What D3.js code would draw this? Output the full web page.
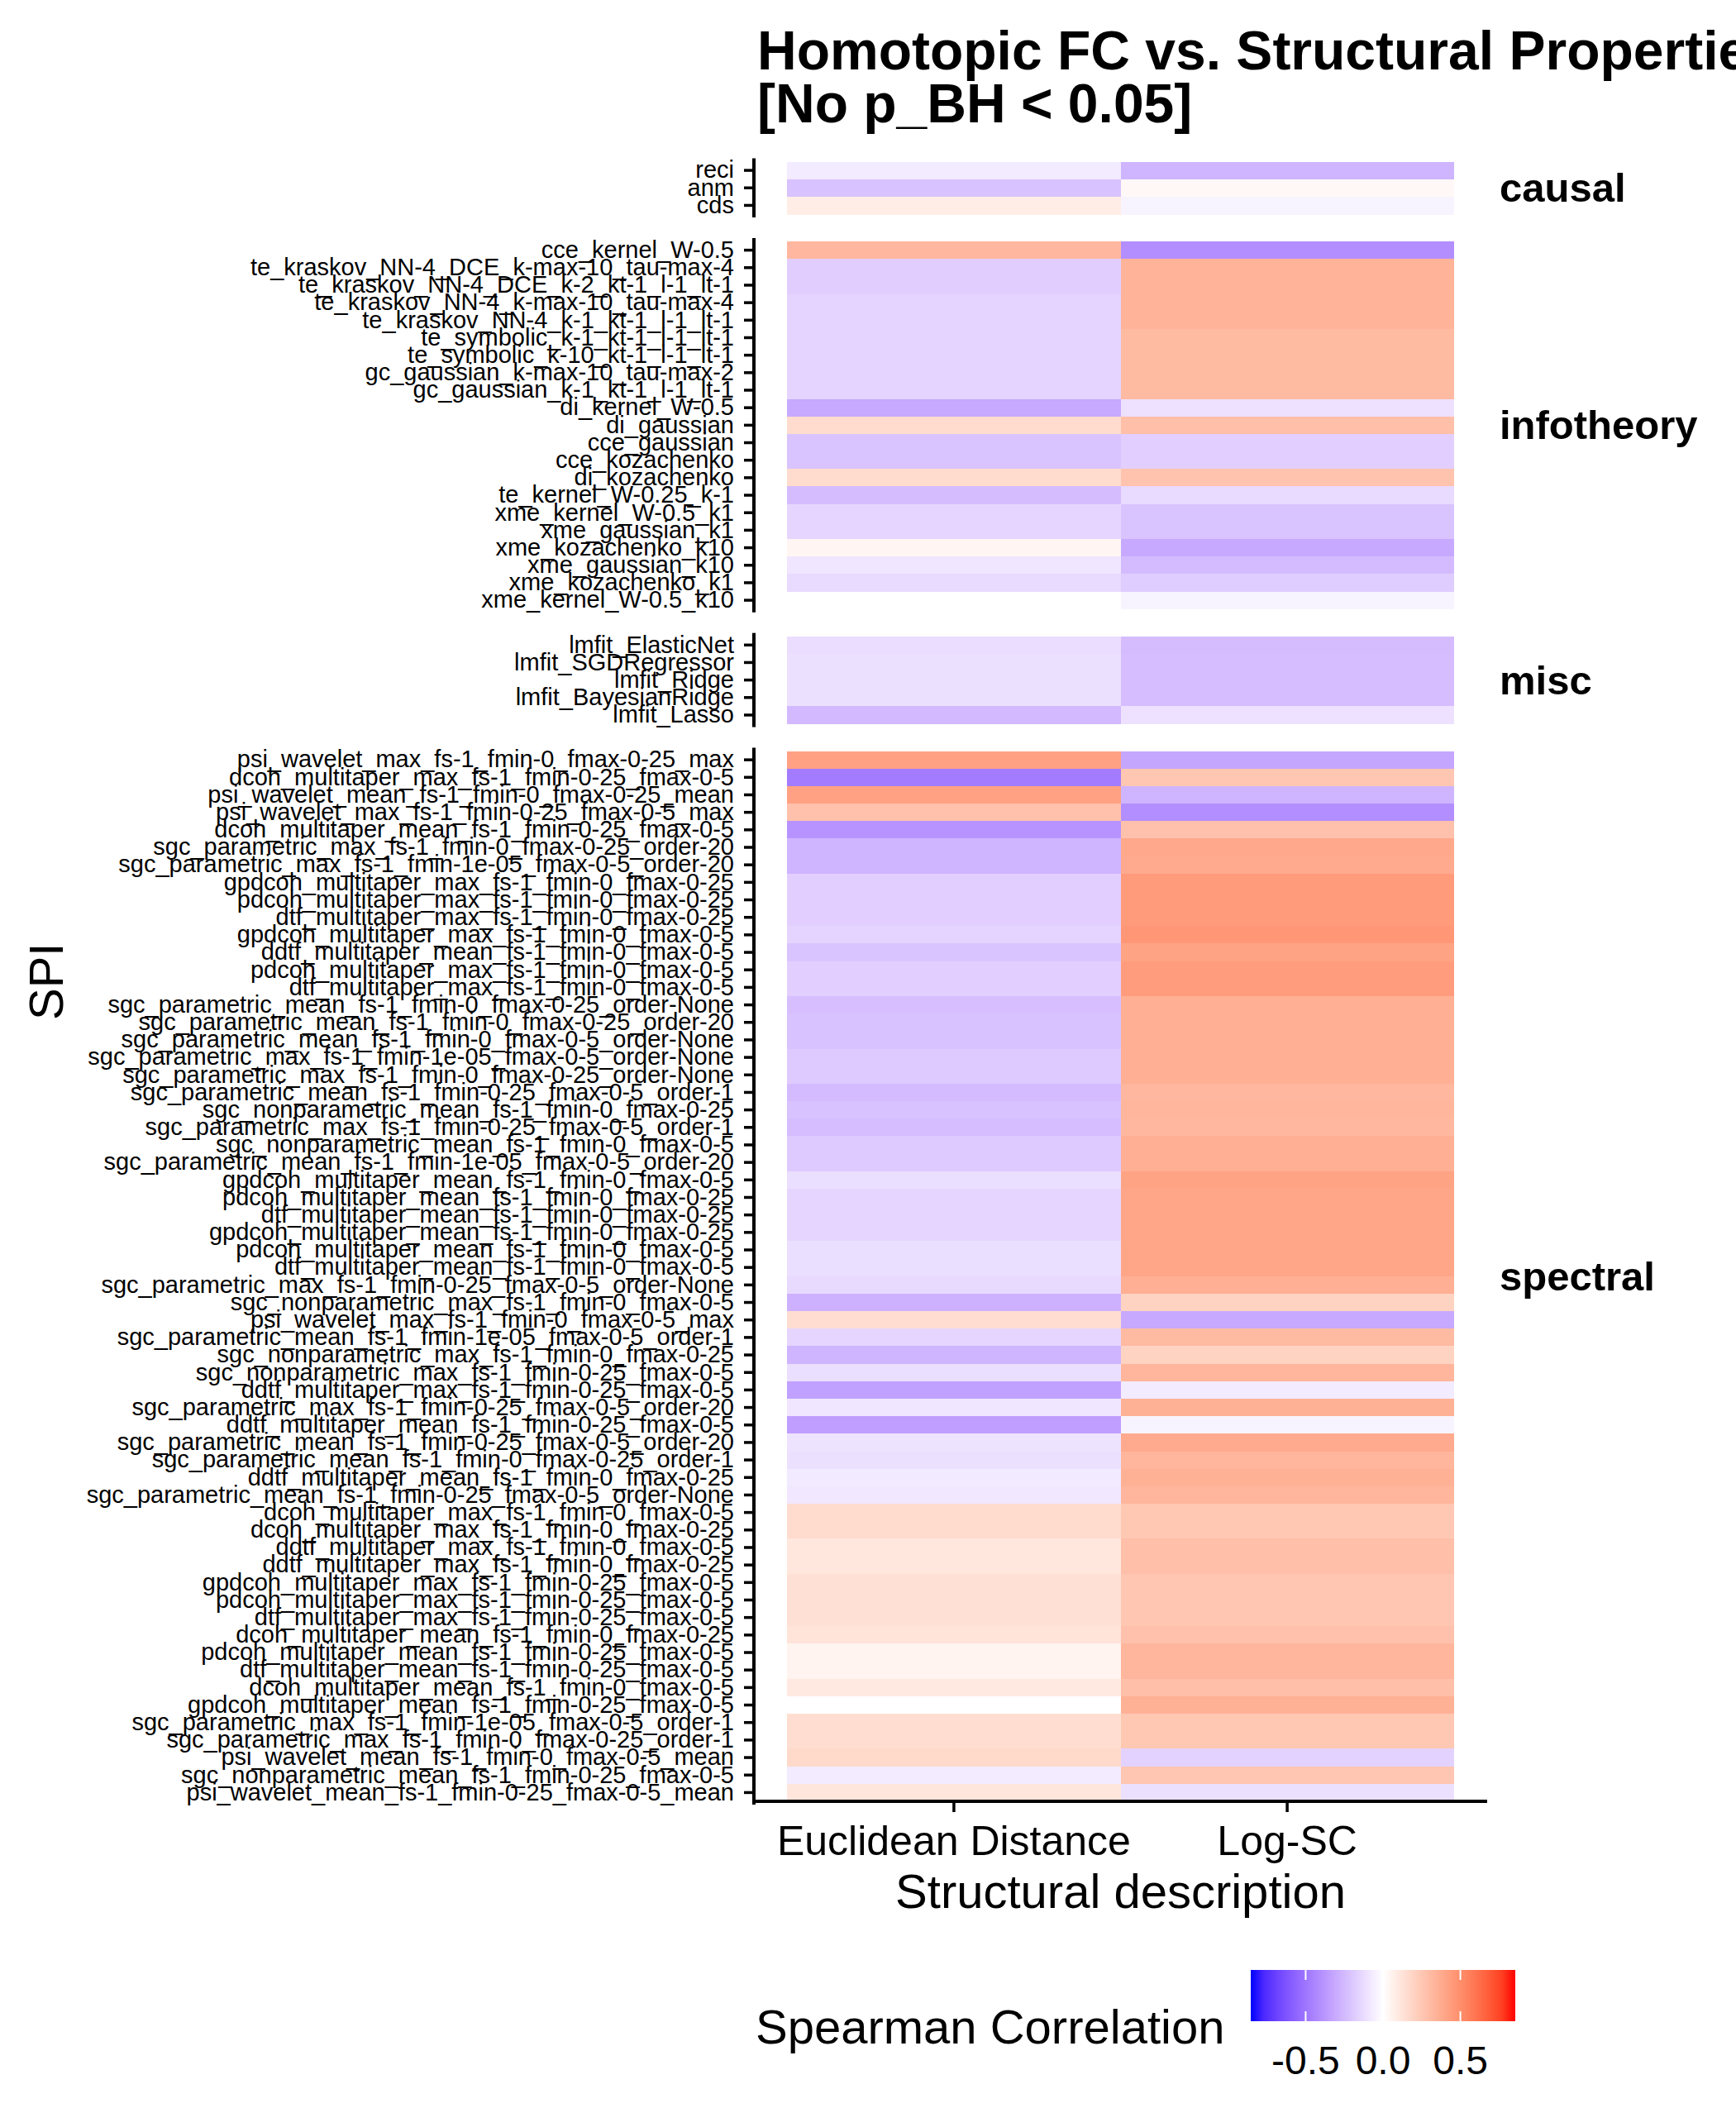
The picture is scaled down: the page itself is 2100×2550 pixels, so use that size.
<!DOCTYPE html>
<html>
<head>
<meta charset="utf-8">
<script src="https://cdn.jsdelivr.net/npm/d3@7"></script>
<style>
  body { margin: 0; background: #fff; }
  svg text { font-family: "Liberation Sans", Arial, Helvetica, sans-serif; fill: #000; }
</style>
</head>
<body>
<svg width="2100" height="2550"></svg>
<script>
// Heatmap of Spearman correlation between homotopic FC and structural measures, faceted by SPI family

let svg = d3.select('svg');
let width = +svg.attr('width');

// Structural descriptions (x categories)
let measures = ['Euclidean Distance', 'Log-SC'];

// Facet names
let facets = ['causal', 'infotheory', 'misc', 'spectral'];

// SPIs per facet, top to bottom
let causalSpis = ['reci', 'anm', 'cds'];
let infotheorySpis = [
    'cce_kernel_W-0.5', 'te_kraskov_NN-4_DCE_k-max-10_tau-max-4', 'te_kraskov_NN-4_DCE_k-2_kt-1_l-1_lt-1',
    'te_kraskov_NN-4_k-max-10_tau-max-4', 'te_kraskov_NN-4_k-1_kt-1_l-1_lt-1', 'te_symbolic_k-1_kt-1_l-1_lt-1',
    'te_symbolic_k-10_kt-1_l-1_lt-1', 'gc_gaussian_k-max-10_tau-max-2', 'gc_gaussian_k-1_kt-1_l-1_lt-1',
    'di_kernel_W-0.5', 'di_gaussian', 'cce_gaussian', 'cce_kozachenko', 'di_kozachenko',
    'te_kernel_W-0.25_k-1', 'xme_kernel_W-0.5_k1', 'xme_gaussian_k1', 'xme_kozachenko_k10',
    'xme_gaussian_k10', 'xme_kozachenko_k1', 'xme_kernel_W-0.5_k10'
];
let miscSpis = ['lmfit_ElasticNet', 'lmfit_SGDRegressor', 'lmfit_Ridge', 'lmfit_BayesianRidge', 'lmfit_Lasso'];
let spectralSpis = [
    'psi_wavelet_max_fs-1_fmin-0_fmax-0-25_max', 'dcoh_multitaper_max_fs-1_fmin-0-25_fmax-0-5',
    'psi_wavelet_mean_fs-1_fmin-0_fmax-0-25_mean', 'psi_wavelet_max_fs-1_fmin-0-25_fmax-0-5_max',
    'dcoh_multitaper_mean_fs-1_fmin-0-25_fmax-0-5', 'sgc_parametric_max_fs-1_fmin-0_fmax-0-25_order-20',
    'sgc_parametric_max_fs-1_fmin-1e-05_fmax-0-5_order-20', 'gpdcoh_multitaper_max_fs-1_fmin-0_fmax-0-25',
    'pdcoh_multitaper_max_fs-1_fmin-0_fmax-0-25', 'dtf_multitaper_max_fs-1_fmin-0_fmax-0-25',
    'gpdcoh_multitaper_max_fs-1_fmin-0_fmax-0-5', 'ddtf_multitaper_mean_fs-1_fmin-0_fmax-0-5',
    'pdcoh_multitaper_max_fs-1_fmin-0_fmax-0-5', 'dtf_multitaper_max_fs-1_fmin-0_fmax-0-5',
    'sgc_parametric_mean_fs-1_fmin-0_fmax-0-25_order-None', 'sgc_parametric_mean_fs-1_fmin-0_fmax-0-25_order-20',
    'sgc_parametric_mean_fs-1_fmin-0_fmax-0-5_order-None', 'sgc_parametric_max_fs-1_fmin-1e-05_fmax-0-5_order-None',
    'sgc_parametric_max_fs-1_fmin-0_fmax-0-25_order-None', 'sgc_parametric_mean_fs-1_fmin-0-25_fmax-0-5_order-1',
    'sgc_nonparametric_mean_fs-1_fmin-0_fmax-0-25', 'sgc_parametric_max_fs-1_fmin-0-25_fmax-0-5_order-1',
    'sgc_nonparametric_mean_fs-1_fmin-0_fmax-0-5', 'sgc_parametric_mean_fs-1_fmin-1e-05_fmax-0-5_order-20',
    'gpdcoh_multitaper_mean_fs-1_fmin-0_fmax-0-5', 'pdcoh_multitaper_mean_fs-1_fmin-0_fmax-0-25',
    'dtf_multitaper_mean_fs-1_fmin-0_fmax-0-25', 'gpdcoh_multitaper_mean_fs-1_fmin-0_fmax-0-25',
    'pdcoh_multitaper_mean_fs-1_fmin-0_fmax-0-5', 'dtf_multitaper_mean_fs-1_fmin-0_fmax-0-5',
    'sgc_parametric_max_fs-1_fmin-0-25_fmax-0-5_order-None', 'sgc_nonparametric_max_fs-1_fmin-0_fmax-0-5',
    'psi_wavelet_max_fs-1_fmin-0_fmax-0-5_max', 'sgc_parametric_mean_fs-1_fmin-1e-05_fmax-0-5_order-1',
    'sgc_nonparametric_max_fs-1_fmin-0_fmax-0-25', 'sgc_nonparametric_max_fs-1_fmin-0-25_fmax-0-5',
    'ddtf_multitaper_max_fs-1_fmin-0-25_fmax-0-5', 'sgc_parametric_max_fs-1_fmin-0-25_fmax-0-5_order-20',
    'ddtf_multitaper_mean_fs-1_fmin-0-25_fmax-0-5', 'sgc_parametric_mean_fs-1_fmin-0-25_fmax-0-5_order-20',
    'sgc_parametric_mean_fs-1_fmin-0_fmax-0-25_order-1', 'ddtf_multitaper_mean_fs-1_fmin-0_fmax-0-25',
    'sgc_parametric_mean_fs-1_fmin-0-25_fmax-0-5_order-None', 'dcoh_multitaper_max_fs-1_fmin-0_fmax-0-5',
    'dcoh_multitaper_max_fs-1_fmin-0_fmax-0-25', 'ddtf_multitaper_max_fs-1_fmin-0_fmax-0-5',
    'ddtf_multitaper_max_fs-1_fmin-0_fmax-0-25', 'gpdcoh_multitaper_max_fs-1_fmin-0-25_fmax-0-5',
    'pdcoh_multitaper_max_fs-1_fmin-0-25_fmax-0-5', 'dtf_multitaper_max_fs-1_fmin-0-25_fmax-0-5',
    'dcoh_multitaper_mean_fs-1_fmin-0_fmax-0-25', 'pdcoh_multitaper_mean_fs-1_fmin-0-25_fmax-0-5',
    'dtf_multitaper_mean_fs-1_fmin-0-25_fmax-0-5', 'dcoh_multitaper_mean_fs-1_fmin-0_fmax-0-5',
    'gpdcoh_multitaper_mean_fs-1_fmin-0-25_fmax-0-5', 'sgc_parametric_max_fs-1_fmin-1e-05_fmax-0-5_order-1',
    'sgc_parametric_max_fs-1_fmin-0_fmax-0-25_order-1', 'psi_wavelet_mean_fs-1_fmin-0_fmax-0-5_mean',
    'sgc_nonparametric_mean_fs-1_fmin-0-25_fmax-0-5', 'psi_wavelet_mean_fs-1_fmin-0-25_fmax-0-5_mean'
];

// Spearman correlations (Euclidean Distance, Log-SC), same order as the SPI lists
let causalEuclid = [-0.07, -0.22, 0.08];
let causalLogSC = [-0.27, 0.03, -0.04];

let infotheoryEuclid = [0.32, -0.175, -0.175, -0.155, -0.155, -0.155, -0.155, -0.155, -0.155, -0.31, 0.16,
    -0.21, -0.21, 0.16, -0.24, -0.145, -0.145, 0.04, -0.09, -0.13, 0.0];
let infotheoryLogSC = [-0.41, 0.34, 0.34, 0.34, 0.34, 0.31, 0.31, 0.31, 0.31, -0.105, 0.29,
    -0.17, -0.17, 0.27, -0.13, -0.21, -0.21, -0.31, -0.245, -0.18, -0.04];

let miscEuclid = [-0.12, -0.11, -0.11, -0.11, -0.25];
let miscLogSC = [-0.24, -0.235, -0.235, -0.235, -0.105];

let spectralEuclid = [0.42, -0.48, 0.42, 0.28, -0.39, -0.27, -0.27, -0.17, -0.17, -0.17,
    -0.155, -0.21, -0.17, -0.17, -0.23, -0.22, -0.22, -0.19, -0.19, -0.245,
    -0.22, -0.235, -0.19, -0.19, -0.115, -0.145, -0.145, -0.145, -0.115, -0.115,
    -0.135, -0.28, 0.15, -0.15, -0.27, -0.115, -0.34, -0.09, -0.35, -0.10,
    -0.11, -0.075, -0.085, 0.16, 0.16, 0.11, 0.11, 0.14, 0.14, 0.14,
    0.125, 0.05, 0.05, 0.10, 0.0, 0.15, 0.15, 0.17, -0.07, 0.115];
let spectralLogSC = [-0.32, 0.26, -0.27, -0.41, 0.28, 0.39, 0.38, 0.45, 0.45, 0.45,
    0.46, 0.41, 0.44, 0.44, 0.36, 0.36, 0.36, 0.36, 0.36, 0.32,
    0.33, 0.32, 0.36, 0.36, 0.41, 0.40, 0.40, 0.40, 0.40, 0.40,
    0.36, 0.20, -0.31, 0.31, 0.20, 0.33, -0.07, 0.35, -0.04, 0.38,
    0.33, 0.35, 0.33, 0.25, 0.25, 0.29, 0.29, 0.26, 0.26, 0.26,
    0.28, 0.33, 0.33, 0.29, 0.35, 0.25, 0.25, -0.16, 0.26, -0.11];

// Legend ticks
let legendTicks = [-0.5, 0.0, 0.5];
let legendTickLabels = ['-0.5', '0.0', '0.5'];

// Assemble per facet
let panels = [
    { name: facets[0], spis: causalSpis, values: [causalEuclid, causalLogSC] },
    { name: facets[1], spis: infotheorySpis, values: [infotheoryEuclid, infotheoryLogSC] },
    { name: facets[2], spis: miscSpis, values: [miscEuclid, miscLogSC] },
    { name: facets[3], spis: spectralSpis, values: [spectralEuclid, spectralLogSC] }
];

// Layout constants
let panelTop = 195.5;
let panelBottom = 2179;
let panelGap = 33;
let axisX = 912;
let panelRight = 1799;
let totalRows = d3.sum(panels, p => p.spis.length);
let rowH = (panelBottom - panelTop - panelGap * (panels.length - 1)) / totalRows;

// Colour scale (blue - white - red, Lab interpolation)
let limit = 0.855;
let color = d3.scaleDiverging()
    .domain([-limit, 0, limit])
    .interpolator(d3.piecewise(d3.interpolateLab, ['#0000ff', '#ffffff', '#ff0000']));

// x scale shared by all panels
let x = d3.scaleBand()
    .domain(measures)
    .range([axisX, panelRight])
    .paddingOuter(0.1)
    .paddingInner(0);

// Draw each facet
let offset = panelTop;
panels.forEach(function(p) {
    let y = d3.scaleBand()
        .domain(p.spis)
        .range([offset, offset + p.spis.length * rowH]);

    let cells = [];
    p.spis.forEach(function(spi, i) {
        measures.forEach(function(m, j) {
            cells.push({ spi: spi, measure: m, value: p.values[j][i] });
        });
    });

    svg.append('g')
        .selectAll('rect')
        .data(cells)
        .enter().append('rect')
        .attr('x', d => x(d.measure))
        .attr('y', d => y(d.spi))
        .attr('width', x.bandwidth() + 0.5)
        .attr('height', y.bandwidth() + 0.5)
        .attr('shape-rendering', 'crispEdges')
        .style('fill', d => color(d.value));

    // Left axis for this facet
    let axis = svg.append('g')
        .attr('transform', 'translate(' + axisX + ',0)')
        .call(d3.axisLeft(y).tickSize(12).tickPadding(12).tickSizeOuter(0));
    axis.select('.domain').remove();
    axis.selectAll('.tick line').attr('stroke', '#000').attr('stroke-width', 3.5);
    axis.selectAll('.tick text')
        .attr('font-size', '29px')
        .attr('fill', '#000');

    axis.append('line')
        .attr('x1', 0).attr('x2', 0)
        .attr('y1', y.range()[0] - 4)
        .attr('y2', y.range()[1] + 4)
        .attr('stroke', '#000')
        .attr('stroke-width', 4);

    // Facet strip label on the right
    svg.append('text')
        .attr('x', 1814)
        .attr('y', (y.range()[0] + y.range()[1]) / 2)
        .attr('dominant-baseline', 'central')
        .attr('font-size', '49px')
        .attr('font-weight', 'bold')
        .text(p.name);

    offset += p.spis.length * rowH + panelGap;
});

// Bottom axis
let xAxis = svg.append('g')
    .attr('transform', 'translate(0,' + panelBottom + ')')
    .call(d3.axisBottom(x).tickSize(13).tickSizeOuter(0));
xAxis.select('.domain').remove();
xAxis.selectAll('.tick line').attr('stroke', '#000').attr('stroke-width', 3.5);
xAxis.selectAll('.tick text')
    .attr('y', 65)
    .attr('dy', 0)
    .attr('font-size', '50px')
    .attr('fill', '#000');
xAxis.append('line')
    .attr('x1', axisX - 2).attr('x2', panelRight)
    .attr('y1', 0).attr('y2', 0)
    .attr('stroke', '#000')
    .attr('stroke-width', 4);

// Axis titles
svg.append('text')
    .attr('text-anchor', 'middle')
    .attr('x', (axisX + panelRight) / 2)
    .attr('y', 2308)
    .attr('font-size', '58px')
    .text('Structural description');

svg.append('text')
    .attr('text-anchor', 'middle')
    .attr('transform', 'translate(76,' + ((panelTop + panelBottom) / 2) + ') rotate(-90)')
    .attr('font-size', '58px')
    .text('SPI');

// Title (runs past the right edge, as in the original)
svg.append('text')
    .attr('x', 916)
    .attr('y', 84)
    .attr('font-size', '66px')
    .attr('font-weight', 'bold')
    .text('Homotopic FC vs. Structural Properties');

svg.append('text')
    .attr('x', 916)
    .attr('y', 148)
    .attr('font-size', '66px')
    .attr('font-weight', 'bold')
    .text('[No p_BH < 0.05]');

// Colour bar legend
let legendX = d3.scaleLinear().domain([-limit, limit]).range([1513, 1833]);
let barTop = 2383, barHeight = 62;

let defs = svg.append('defs');
let grad = defs.append('linearGradient').attr('id', 'cbar');
grad.selectAll('stop')
    .data(d3.range(0, 1.0001, 0.05))
    .enter().append('stop')
    .attr('offset', d => (d * 100) + '%')
    .attr('stop-color', d => color(-limit + d * 2 * limit));

svg.append('rect')
    .attr('x', legendX(-limit))
    .attr('y', barTop)
    .attr('width', legendX(limit) - legendX(-limit))
    .attr('height', barHeight)
    .style('fill', 'url(#cbar)');

legendTicks.forEach(function(t, i) {
    [[barTop, barTop + 12], [barTop + barHeight - 12, barTop + barHeight]].forEach(function(seg) {
        svg.append('line')
            .attr('x1', legendX(t)).attr('x2', legendX(t))
            .attr('y1', seg[0]).attr('y2', seg[1])
            .attr('stroke', '#fff')
            .attr('stroke-width', 2);
    });
    svg.append('text')
        .attr('x', legendX(t))
        .attr('y', 2509)
        .attr('text-anchor', 'middle')
        .attr('font-size', '48px')
        .text(legendTickLabels[i]);
});

svg.append('text')
    .attr('x', 914)
    .attr('y', 2472)
    .attr('font-size', '58px')
    .text('Spearman Correlation');
</script>
</body>
</html>
